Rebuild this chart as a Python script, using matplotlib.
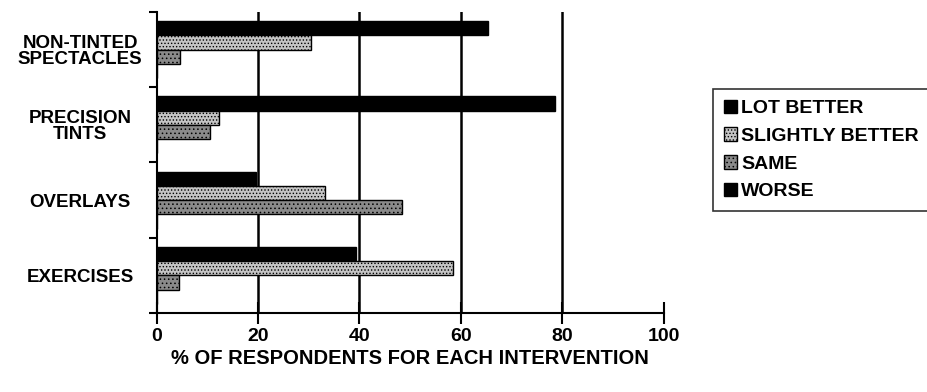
import numpy as np
import matplotlib.pyplot as plt

plt.rcParams['font.family'] = ['Liberation Sans', 'DejaVu Sans']
plt.rcParams['font.weight'] = 'bold'
plt.rcParams['hatch.linewidth'] = 0.6

categories = ['NON-TINTED\nSPECTACLES', 'PRECISION\nTINTS', 'OVERLAYS', 'EXERCISES']
series = ['LOT BETTER', 'SLIGHTLY BETTER', 'SAME', 'WORSE']
lot_better = [65.3, 78.5, 19.5, 39.4]
slightly_better = [30.5, 12.3, 33.2, 58.4]
same = [4.6, 10.5, 48.4, 4.5]
worse = [0, 0, 0, 0]
xticks = [0, 20, 40, 60, 80, 100]

values = [lot_better, slightly_better, same, worse]
faces = ['black', '#c4c4c4', '#8a8a8a', 'black']
hatches = [None, '.....', '....', None]

fig = plt.figure(figsize=(9.27, 3.92), dpi=100)
ax = fig.add_axes([0.169, 0.2015, 0.547, 0.768])

# group centres, top to bottom
centres = np.arange(len(categories))[::-1] + 0.5
h = 0.19
offsets = [0.285, 0.095, -0.095, -0.285]

for vals, fc, ht, off, name in zip(values, faces, hatches, offsets, series):
    ax.barh(centres + off, vals, height=h, color=fc, edgecolor='black',
            linewidth=1.0, hatch=ht, label=name, zorder=3)

ax.set_xlim(0, 100)
ax.set_ylim(0, 4)

# vertical grid lines
for g in xticks[1:-1]:
    ax.axvline(g, color='black', lw=1.8, zorder=1)

ax.set_xticks(xticks)
ax.set_xticklabels([str(t) for t in xticks], fontsize=14, fontweight='bold')
ax.tick_params(axis='x', direction='inout', length=16, width=1.5, pad=3)

ax.set_yticks(np.arange(0, 5))
ax.set_yticklabels([])
ax.set_yticks(centres, minor=True)
ax.set_yticklabels(categories, minor=True, fontsize=13.5, fontweight='bold',
                   ha='center', linespacing=0.95)
ax.tick_params(axis='y', which='major', direction='out', length=6, width=1.5)
ax.tick_params(axis='y', which='minor', length=0, pad=55)

ax.spines['top'].set_visible(False)
ax.spines['right'].set_visible(False)
ax.spines['left'].set_linewidth(1.5)
ax.spines['bottom'].set_linewidth(1.5)

ax.set_xlabel('% OF RESPONDENTS FOR EACH INTERVENTION', fontsize=14.5,
              fontweight='bold', labelpad=3)

leg = ax.legend(loc='upper left', bbox_to_anchor=(0.769, 0.773),
                bbox_transform=fig.transFigure, fontsize=14, frameon=True,
                fancybox=False, handlelength=0.7, handleheight=0.7,
                handletextpad=0.2, borderpad=0.55, labelspacing=0.52,
                borderaxespad=0)
leg.get_frame().set_edgecolor('black')
leg.get_frame().set_linewidth(1.2)

fig.savefig('out.png', dpi=100)
